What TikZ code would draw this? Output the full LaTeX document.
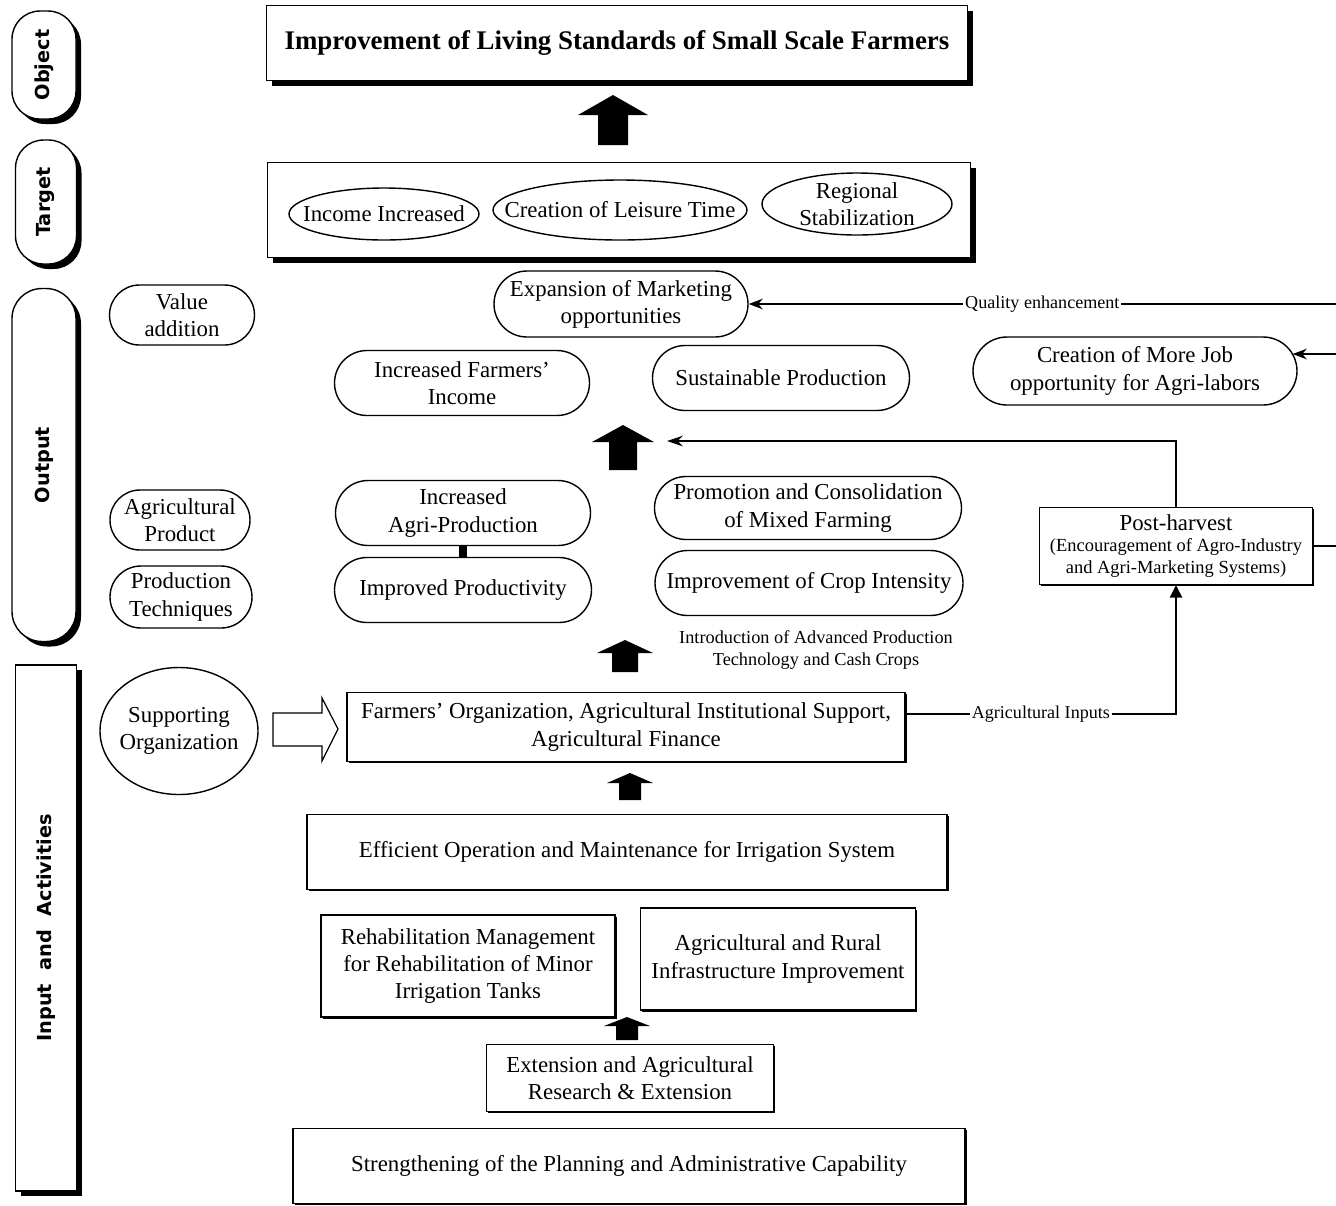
\documentclass[tikz,border=0pt]{standalone}
\usepackage{fontspec}
\setmainfont{Liberation Serif}
\newfontfamily\barfont{DejaVu Sans}
\usetikzlibrary{shapes.geometric,shapes.misc,shadows,arrows.meta,calc}
\newdimen\unitpx \unitpx=0.02cm
\newcommand\blockarrow[7]{%
  \fill[black] (#2,#3) -- ({#2+#5},{#3+#7}) -- ({#2+#6},{#3+#7}) -- ({#2+#6},#4) -- ({#2-#6},#4) -- ({#2-#6},{#3+#7}) -- ({#2-#5},{#3+#7}) -- cycle;
  \coordinate (#1) at (#2,{(#3+#4)/2});}
\tikzset{
  base/.style={draw, line width=0.8pt, fill=white, inner sep=0pt, align=center, font=\fontsize{13}{15.5}\selectfont},
  stadium/.style={base, rounded rectangle},
  oval/.style={base, ellipse},
  ovaltext/.style={inner sep=0pt, align=center, font=\fontsize{13}{15.5}\selectfont},
  rbox/.style={base, rectangle, drop shadow={shadow xshift=1.5\unitpx, shadow yshift=-1.5\unitpx, fill=black, opacity=1}},
  bigshad/.style={drop shadow={shadow xshift=5\unitpx, shadow yshift=-5\unitpx, fill=black, opacity=1}},
  bar/.style={base, bigshad, font=\barfont\bfseries\fontsize{11}{13}\selectfont},
  lab/.style={fill=white, inner sep=1pt, font=\fontsize{10.3}{12}\selectfont},
  conn/.style={line width=0.7pt},
}
\begin{document}
\begin{tikzpicture}[x=0.02cm, y=-0.02cm]
\fill[white] (0,0) rectangle (1336,1205);
\useasboundingbox (0,0) rectangle (1336,1205);

% left bars
\node[bar, rounded corners=28\unitpx, minimum width=64\unitpx, minimum height=108\unitpx] (object) at (44,65) {\rotatebox{90}{Object}};
\node[bar, rounded corners=28\unitpx, minimum width=61\unitpx, minimum height=124\unitpx] (target) at (46,202) {\rotatebox{90}{Target}};
\node[bar, rounded corners=30\unitpx, minimum width=64\unitpx, minimum height=353\unitpx] (output) at (44,465) {\rotatebox{90}{Output}};
\node[bar, minimum width=61\unitpx, minimum height=526\unitpx] (input) at (46,928) {\rotatebox{90}{Input\ \ and\ \ Activities}};

% object and target
\node[base, bigshad, minimum width=701\unitpx, minimum height=75\unitpx, font=\bfseries\fontsize{15.3}{18}\selectfont] (goal) at (617,43) {Improvement of Living Standards of Small Scale Farmers};
\blockarrow{ar1}{613}{95}{145}{35}{15}{20}
\node[base, bigshad, minimum width=703\unitpx, minimum height=95\unitpx] (tbox) at (619,210) {};
\node[oval, minimum width=190\unitpx, minimum height=52\unitpx] (income) at (384,214) {};
\node[ovaltext] (incomet) at (income) {Income Increased};
\node[oval, minimum width=254\unitpx, minimum height=60\unitpx] (leisure) at (620,210) {};
\node[ovaltext] (leisuret) at (leisure) {Creation of Leisure Time};
\node[oval, minimum width=190\unitpx, minimum height=62\unitpx] (regional) at (857,204) {};
\node[ovaltext] (regionalt) at (regional) {Regional\\Stabilization};

% outputs
\node[stadium, minimum width=145\unitpx, minimum height=60\unitpx] (valadd) at (182,315) {Value\\addition};
\node[stadium, minimum width=254\unitpx, minimum height=66\unitpx] (expmkt) at (621,304) {Expansion of Marketing\\opportunities};
\node[stadium, minimum width=255\unitpx, minimum height=65\unitpx] (incinc) at (462,383) {Increased Farmers'\\Income};
\node[stadium, minimum width=257\unitpx, minimum height=65\unitpx] (susprod) at (781,378) {Sustainable Production};
\node[stadium, minimum width=324\unitpx, minimum height=68\unitpx] (job) at (1135,371) {Creation of More Job\\opportunity for Agri-labors};
\blockarrow{ar2}{623}{425}{470}{31}{14}{17}

\node[stadium, minimum width=140\unitpx, minimum height=60\unitpx] (agprod) at (180,520) {Agricultural\\Product};
\node[stadium, minimum width=142\unitpx, minimum height=62\unitpx] (prodtech) at (181,597) {Production\\Techniques};
\node[stadium, minimum width=255\unitpx, minimum height=65\unitpx] (incagri) at (463,513) {Increased\\Agri-Production};
\node[stadium, minimum width=257\unitpx, minimum height=65\unitpx] (impprod) at (463,590) {Improved Productivity};
\node[stadium, minimum width=307\unitpx, minimum height=63\unitpx] (promo) at (808,508) {Promotion and Consolidation\\of Mixed Farming};
\node[stadium, minimum width=308\unitpx, minimum height=65\unitpx] (cropint) at (809,583) {Improvement of Crop Intensity};
\node[rbox, minimum width=273\unitpx, minimum height=77\unitpx, font=\fontsize{10.5}{12}\selectfont] (post) at (1176,546) {{\fontsize{13}{15}\selectfont Post-harvest}\\(Encouragement of Agro-Industry\\and Agri-Marketing Systems)};
\node[align=center, inner sep=0pt, font=\fontsize{10.4}{12.8}\selectfont] (intro) at (816,650) {Introduction of Advanced Production\\Technology and Cash Crops};
\draw[line width=4pt] (impprod.north) -- (incagri.south);
\blockarrow{ar3}{625}{640}{672}{28}{13}{13}

% inputs and activities
\node[oval, minimum width=158\unitpx, minimum height=127\unitpx] (support) at (179,731) {};
\node[ovaltext] (supportt) at (support) {Supporting\\Organization};
\node[rbox, minimum width=558\unitpx, minimum height=69\unitpx] (farm) at (626,727) {Farmers' Organization, Agricultural Institutional Support,\\Agricultural Finance};
\draw[conn, fill=white] (273,713) -- (322,713) -- (322,698) -- (338,729) -- (322,761) -- (322,746) -- (273,746) -- cycle;
\coordinate (hollowtip) at (338,729);
\blockarrow{ar4}{630}{773}{800}{23}{11}{10}
\node[rbox, minimum width=640\unitpx, minimum height=75\unitpx] (effop) at (627,852) {Efficient Operation and Maintenance for Irrigation System};
\node[rbox, minimum width=294\unitpx, minimum height=102\unitpx] (rehab) at (468,966) {Rehabilitation Management\\for Rehabilitation of Minor\\Irrigation Tanks};
\node[rbox, minimum width=275\unitpx, minimum height=102\unitpx] (agrur) at (778,959) {Agricultural and Rural\\Infrastructure Improvement};
\blockarrow{ar5}{627}{1017}{1040}{23}{11}{9}
\node[rbox, minimum width=287\unitpx, minimum height=67\unitpx] (ext) at (630,1078) {Extension and Agricultural\\Research \& Extension};
\node[rbox, minimum width=672\unitpx, minimum height=75\unitpx] (strength) at (629,1166) {Strengthening of the Planning and Administrative Capability};

% connectors
\coordinate (qe) at (1336,304);
\draw[conn, -{Stealth[length=8pt,width=6pt]}] (qe) -- node[lab] (qelab) {Quality enhancement} (expmkt.east);
\coordinate (jb) at (1336,354);
\draw[conn, -{Stealth[length=8pt,width=6pt]}] (jb) -- ($(job.east)+(-5,-17)$);
\coordinate (pr) at (1336,0);
\draw[conn] (post.east) -- (post.east -| pr);
\coordinate (phend) at (667,441);
\draw[conn, -{Stealth[length=9pt,width=6pt]}] (post.north) |- (phend);
\coordinate (aic) at (1176,714);
\draw[conn, -{Triangle[length=7pt,width=7pt]}] (farm.east |- aic) -- node[lab] (ailab) {Agricultural Inputs} (aic) -- (post.south);
\end{tikzpicture}
\end{document}
